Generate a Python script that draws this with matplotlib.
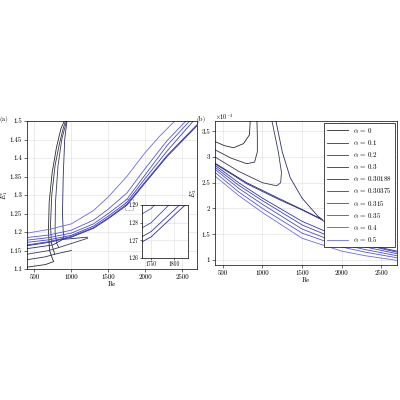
import matplotlib
matplotlib.use("Agg")
import matplotlib.pyplot as plt
from matplotlib.patches import Rectangle
from matplotlib.ticker import FuncFormatter

plt.rcParams["font.family"] = "serif"
plt.rcParams["font.serif"] = ["cmr10", "DejaVu Serif"]
plt.rcParams["mathtext.fontset"] = "cm"
plt.rcParams["axes.unicode_minus"] = False
plt.rcParams["font.size"] = 5

alphas = ["0", "0.1", "0.2", "0.3", "0.30188", "0.30375", "0.315", "0.35", "0.4", "0.5"]
colors = ["#2a2a2a", "#333344", "#3a3a5a", "#2c2c70", "#2a2aa0", "#3535b8", "#4040c8",
          "#4a4ad8", "#5555e0", "#6a6aee"]

# ---- panel (a): E1 vs Re
a_x = [
    [400, 650, 760, 740, 705, 690, 700, 740, 800, 860, 905],
    [400, 650, 775, 760, 730, 718, 735, 780, 840, 890, 920],
    [400, 700, 830, 800, 780, 785, 820, 870, 935],
    [400, 750, 885, 900, 890, 880, 890, 910, 940],
    [400, 700, 1000, 1300, 1500, 1750, 2000, 2300, 2700],
    [400, 700, 1000, 1300, 1500, 1750, 2000, 2300, 2700],
    [400, 700, 1000, 1300, 1500, 1750, 2000, 2300, 2650],
    [400, 700, 1000, 1300, 1500, 1750, 2000, 2300, 2600],
    [400, 700, 1000, 1300, 1500, 1750, 2000, 2300, 2550],
    [400, 700, 1000, 1300, 1500, 1750, 2000, 2200, 2400],
]
a_y = [
    [1.105, 1.112, 1.12, 1.13, 1.15, 1.2, 1.28, 1.36, 1.43, 1.48, 1.5],
    [1.125, 1.133, 1.14, 1.15, 1.17, 1.22, 1.3, 1.38, 1.44, 1.48, 1.5],
    [1.14, 1.15, 1.158, 1.17, 1.2, 1.28, 1.38, 1.45, 1.5],
    [1.155, 1.165, 1.18, 1.19, 1.2, 1.25, 1.35, 1.45, 1.5],
    [1.163, 1.172, 1.186, 1.21, 1.236, 1.272, 1.333, 1.405, 1.487],
    [1.165, 1.174, 1.188, 1.212, 1.238, 1.275, 1.336, 1.408, 1.49],
    [1.172, 1.179, 1.191, 1.216, 1.243, 1.28, 1.345, 1.42, 1.5],
    [1.178, 1.185, 1.197, 1.222, 1.25, 1.288, 1.355, 1.435, 1.5],
    [1.185, 1.192, 1.205, 1.232, 1.262, 1.305, 1.372, 1.448, 1.5],
    [1.197, 1.207, 1.222, 1.258, 1.295, 1.35, 1.415, 1.46, 1.5],
]
# lower right branches of the small-alpha curves
a_br_x = [[775, 1000], [830, 1220], [885, 1220]]
a_br_y = [[1.14, 1.15], [1.158, 1.183], [1.18, 1.186]]

# ---- panel (b): E2 vs Re  (units of 1e-3)
b_x = [
    [400, 520, 635, 760, 835, 845],
    [400, 600, 800, 900, 935, 935, 930],
    [400, 700, 1000, 1180, 1230, 1240, 1200, 1120],
    [400, 800, 1200, 1500, 1760, 1700, 1500, 1350, 1250, 1170],
    [400, 800, 1200, 1500, 1750, 2000, 2300, 2700],
    [400, 700, 1000, 1500, 2000, 2300, 2700],
    [400, 700, 1000, 1500, 2000, 2300, 2700],
    [400, 700, 1000, 1500, 2000, 2300, 2700],
    [400, 700, 1000, 1500, 2000, 2300, 2700],
    [400, 700, 1000, 1500, 2000, 2300, 2700],
]
b_y = [
    [3.30, 3.22, 3.18, 3.26, 3.43, 3.7],
    [3.14, 2.98, 2.87, 2.9, 3.1, 3.4, 3.7],
    [3.0, 2.72, 2.5, 2.44, 2.5, 2.7, 3.1, 3.7],
    [2.88, 2.5, 2.2, 1.98, 1.78, 1.85, 2.2, 2.6, 3.1, 3.7],
    [2.87, 2.48, 2.18, 1.97, 1.78, 1.5, 1.3, 1.17],
    [2.84, 2.5, 2.2, 1.75, 1.42, 1.29, 1.15],
    [2.8, 2.45, 2.15, 1.68, 1.36, 1.25, 1.12],
    [2.76, 2.39, 2.08, 1.6, 1.3, 1.2, 1.08],
    [2.7, 2.32, 2.0, 1.52, 1.25, 1.15, 1.04],
    [2.63, 2.25, 1.92, 1.42, 1.17, 1.08, 0.99],
]

fig = plt.figure(figsize=(4, 4), dpi=100)
ax1 = fig.add_axes([0.0675, 0.3275, 0.425, 0.37])
ax2 = fig.add_axes([0.5375, 0.3375, 0.455, 0.36])

for i in range(len(alphas)):
    ax1.plot(a_x[i], a_y[i], color=colors[i], lw=0.6)
    ax2.plot(b_x[i], b_y[i], color=colors[i], lw=0.6,
             label=r"$\alpha$ = " + alphas[i])
for i in range(len(a_br_x)):
    ax1.plot(a_br_x[i], a_br_y[i], color=colors[i + 1], lw=0.6)

for ax in (ax1, ax2):
    ax.set_xlim(400, 2700)
    ax.set_xticks([500, 1000, 1500, 2000, 2500])
    ax.grid(True, color="#dddddd", lw=0.4)
    ax.tick_params(length=2, width=0.4, pad=1.5)
    ax.set_xlabel("Re", labelpad=1)
    for s in ax.spines.values():
        s.set_linewidth(0.5)

ax1.set_ylim(1.1, 1.5)
ax1.yaxis.set_major_formatter(FuncFormatter(lambda v, p: f"{v:g}"))
ax1.set_ylabel(r"$E_1^c$")
ax1.yaxis.set_label_coords(-0.1, 0.5)
ax1.text(-0.16, 1.0, "(a)", transform=ax1.transAxes)
ax1.add_patch(Rectangle((1730, 1.26), 100, 0.03, fill=False, ls="--", lw=0.4, ec="#888888"))

ax2.set_ylim(0.9, 3.7)
ax2.set_yticks([1, 1.5, 2, 2.5, 3, 3.5])
ax2.yaxis.set_major_formatter(FuncFormatter(lambda v, p: f"{v:g}"))
ax2.set_ylabel(r"$E_2^c$", labelpad=2)
ax2.text(0.0, 1.01, r"$\times10^{-3}$", transform=ax2.transAxes, fontsize=4.5)
ax2.text(-0.1, 1.0, "(b)", transform=ax2.transAxes)
leg = ax2.legend(loc="upper right", fontsize=5, frameon=True, fancybox=False,
                 edgecolor="black", framealpha=1, handlelength=3, labelspacing=0.45,
                 borderaxespad=0.3)
leg.get_frame().set_linewidth(0.5)

# inset zoom
axi = fig.add_axes([0.355, 0.355, 0.115, 0.1325])
for i in range(len(alphas)):
    axi.plot(a_x[i], a_y[i], color=colors[i], lw=0.6)
axi.set_xlim(1730, 1830)
axi.set_ylim(1.26, 1.29)
axi.set_xticks([1750, 1800])
axi.set_yticks([1.26, 1.27, 1.28, 1.29])
axi.grid(True, color="#dddddd", lw=0.4)
axi.tick_params(labelsize=4, length=1.5, width=0.4, pad=1)
for s in axi.spines.values():
    s.set_linewidth(0.5)

fig.savefig("out.png", dpi=100)
